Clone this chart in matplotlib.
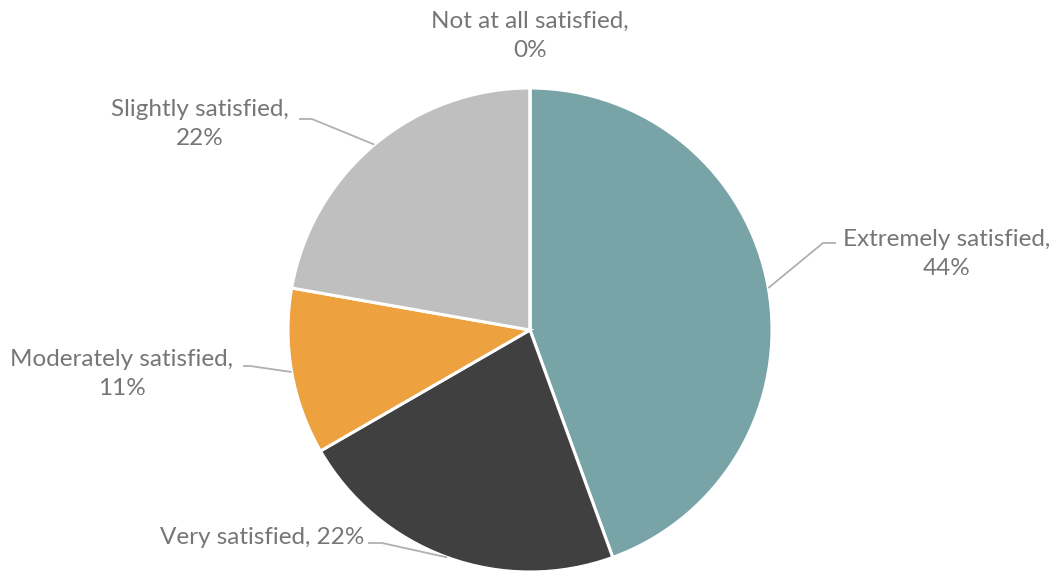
import numpy as np
import matplotlib
matplotlib.use("Agg")
import matplotlib.pyplot as plt

plt.rcParams['font.family'] = ['Lato', 'DejaVu Sans']

labels = ['Extremely satisfied', 'Very satisfied', 'Moderately satisfied',
          'Slightly satisfied', 'Not at all satisfied']
shares = [44, 22, 11, 22, 0]
colors = ['#78A3A7', '#404040', '#EDA13F', '#BFBFBF', '#A5A5A5']

W, H = 1055, 571
fig = plt.figure(figsize=(W / 100, H / 100), dpi=100)
ax = fig.add_axes([0, 0, 1, 1])

cx, cy, r = 530, H - 330, 242
wedges, _ = ax.pie(shares, colors=colors, startangle=90, counterclock=False,
                   center=(cx, cy), radius=r,
                   wedgeprops=dict(edgecolor='white', linewidth=2.2))
ax.set_xlim(0, W)
ax.set_ylim(0, H)
ax.set_aspect('equal')
ax.axis('off')

text_color = '#767676'
line_color = '#B0B0B0'
fs = 17.5

# label text anchor (pixel coords from top) and the elbow of the leader line
layout = {
    'Extremely satisfied': dict(text=(947, 254), two_lines=True, elbow=[(823, 243), (836, 243)]),
    'Very satisfied': dict(text=(262, 537), two_lines=False, elbow=[(382, 543), (368, 543)]),
    'Moderately satisfied': dict(text=(122, 374), two_lines=True, elbow=[(250, 366), (243, 366)]),
    'Slightly satisfied': dict(text=(200, 124), two_lines=True, elbow=[(312, 119), (299, 119)]),
    'Not at all satisfied': dict(text=(530, 36), two_lines=True, elbow=None),
}

for w, name, val in zip(wedges, labels, shares):
    spec = layout[name]
    tx, ty = spec['text']
    if spec['two_lines']:
        s = f'{name},\n{val}%'
    else:
        s = f'{name}, {val}%'
    ax.text(tx, H - ty, s, ha='center', va='center', fontsize=fs,
            color=text_color, linespacing=1.45)
    if spec['elbow']:
        mid = np.deg2rad((w.theta1 + w.theta2) / 2)
        ex, ey = cx + r * np.cos(mid), cy + r * np.sin(mid)
        xs = [ex] + [p[0] for p in spec['elbow']]
        ys = [ey] + [H - p[1] for p in spec['elbow']]
        ax.plot(xs, ys, color=line_color, lw=1.3, solid_capstyle='butt')

fig.savefig('out.png', dpi=100)
